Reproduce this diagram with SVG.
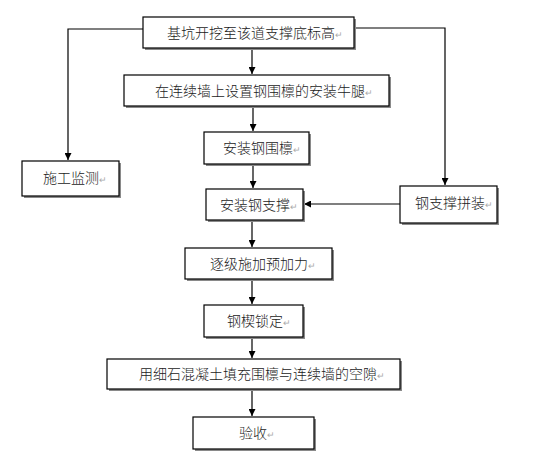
<svg xmlns="http://www.w3.org/2000/svg" width="547" height="454" viewBox="0 0 547 454">
<style>
.sh{fill:#8a8a8a}
.bx{fill:#fff;stroke:#000;stroke-width:1.2}
.t{font-family:"Noto Sans CJK SC","Noto Sans",sans-serif;font-size:14px;font-weight:300;fill:#1a1a1a}
.r{fill:#aaa;font-size:9px}
.ln{stroke:#000;stroke-width:1.2;fill:none}
</style>
<defs>
<marker id="ah" viewBox="0 0 10 10" refX="10" refY="5" markerWidth="7" markerHeight="7" markerUnits="userSpaceOnUse" orient="auto">
<path d="M0,0 L10,5 L0,10 Z" fill="#000"/>
</marker>
</defs>
<rect width="547" height="454" fill="#fff"/>
<g id="connectors">
<path class="ln" d="M143,29 H68 V160" marker-end="url(#ah)"/>
<path class="ln" d="M354,28 H445 V185" stroke="#555" marker-end="url(#ah)"/>
<path class="ln" d="M252,48 V74" marker-end="url(#ah)"/>
<path class="ln" d="M253,106 V131" marker-end="url(#ah)"/>
<path class="ln" d="M253,164 V188" marker-end="url(#ah)"/>
<path class="ln" d="M400,204 H304" marker-end="url(#ah)"/>
<path class="ln" d="M252,220 V247" marker-end="url(#ah)"/>
<path class="ln" d="M252,279 V304" marker-end="url(#ah)"/>
<path class="ln" d="M252,337 V358" marker-end="url(#ah)"/>
<path class="ln" d="M252,389 V416" marker-end="url(#ah)"/>
</g>
<g id="n1"><rect class="sh" x="145" y="19" width="211" height="31"/><rect class="bx" x="143" y="17" width="211" height="31"/><text class="t" x="167" y="38">基坑开挖至该道支撑底标高<tspan class="r">↵</tspan></text></g>
<g id="n2"><rect class="sh" x="126" y="77" width="265" height="31"/><rect class="bx" x="124" y="75" width="265" height="31"/><text class="t" x="155" y="96">在连续墙上设置钢围檩的安装牛腿<tspan class="r">↵</tspan></text></g>
<g id="n3"><rect class="sh" x="206" y="134" width="105" height="32"/><rect class="bx" x="204" y="132" width="105" height="32"/><text class="t" x="223" y="153">安装钢围檩<tspan class="r">↵</tspan></text></g>
<g id="n_monitor"><rect class="sh" x="24" y="163" width="97" height="35"/><rect class="bx" x="22" y="161" width="97" height="35"/><text class="t" x="43" y="183">施工监测<tspan class="r">↵</tspan></text></g>
<g id="n4"><rect class="sh" x="208" y="191" width="97" height="31"/><rect class="bx" x="206" y="189" width="97" height="31"/><text class="t" x="220" y="210">安装钢支撑<tspan class="r">↵</tspan></text></g>
<g id="n_assemble"><rect class="sh" x="402" y="188" width="97" height="37"/><rect class="bx" x="400" y="186" width="97" height="37"/><text class="t" x="415" y="208">钢支撑拼装<tspan class="r">↵</tspan></text></g>
<g id="n5"><rect class="sh" x="187" y="250" width="147" height="31"/><rect class="bx" x="185" y="248" width="147" height="31"/><text class="t" x="210" y="269">逐级施加预加力<tspan class="r">↵</tspan></text></g>
<g id="n6"><rect class="sh" x="206" y="307" width="99" height="32"/><rect class="bx" x="204" y="305" width="99" height="32"/><text class="t" x="227" y="326">钢楔锁定<tspan class="r">↵</tspan></text></g>
<g id="n7"><rect class="sh" x="109" y="361" width="293" height="30"/><rect class="bx" x="107" y="359" width="293" height="30"/><text class="t" x="139" y="379">用细石混凝土填充围檩与连续墙的空隙<tspan class="r">↵</tspan></text></g>
<g id="n8"><rect class="sh" x="195" y="419" width="121" height="32"/><rect class="bx" x="193" y="417" width="121" height="32"/><text class="t" x="239" y="438">验收<tspan class="r">↵</tspan></text></g>
</svg>
